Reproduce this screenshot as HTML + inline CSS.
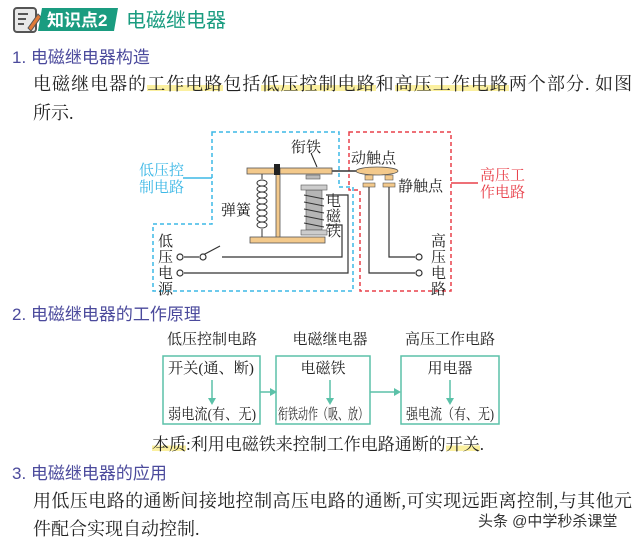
<!DOCTYPE html>
<html><head><meta charset="utf-8"><style>
body{margin:0;background:#fff;width:640px;height:544px;overflow:hidden;font-family:"Liberation Sans","Noto Sans CJK SC",sans-serif;}
.t{position:absolute;white-space:nowrap;}
.j{position:absolute;text-align:justify;text-align-last:justify;white-space:nowrap;font-size:18px;color:#222;font-family:"Liberation Serif","Noto Serif CJK SC",serif;}
.h{position:absolute;color:#4b4a9c;font-size:17px;}
.hl{background:linear-gradient(transparent 55%,#fbf0a0 55%,#fbf0a0 85%,transparent 85%);}
</style></head><body>
<svg class="t" style="left:0;top:0" width="640" height="544">
<rect x="14" y="8" width="22" height="24" rx="3" fill="#e8e8e8" stroke="#555" stroke-width="2"/>
<line x1="18" y1="14" x2="28" y2="14" stroke="#555" stroke-width="2"/>
<line x1="18" y1="19" x2="26" y2="19" stroke="#555" stroke-width="2"/>
<line x1="18" y1="24" x2="24" y2="24" stroke="#555" stroke-width="2"/>
<path d="M28 28 L38 14 L41 17 L31 31 Z" fill="#e07b39" stroke="#555" stroke-width="1"/>
<path d="M42 8 H118 L114 31 H38 Z" fill="#1a9c80"/>
<text x="47" y="26" font-size="17" font-weight="bold" fill="#fff" font-family="Liberation Sans,Noto Sans CJK SC,sans-serif">知识点2</text>
<text x="126" y="27" font-size="20" fill="#1a9c80" font-family="Liberation Sans,Noto Sans CJK SC,sans-serif">电磁继电器</text>

<path d="M212 132 H339 V187 H353 V291 H153 V224 H212 Z" fill="none" stroke="#3db8e6" stroke-width="1.5" stroke-dasharray="4,3"/>
<path d="M349 132 H451 V291 H360 V190 H349 Z" fill="none" stroke="#e8404a" stroke-width="1.5" stroke-dasharray="4,3"/>
<line x1="183" y1="178" x2="212" y2="178" stroke="#3db8e6" stroke-width="1.5"/>
<line x1="451" y1="183" x2="478" y2="183" stroke="#e8404a" stroke-width="1.5"/>
<g font-size="15" font-family="Liberation Serif,Noto Serif CJK SC,serif">
<text x="139" y="175" fill="#3db8e6">低压控</text>
<text x="139" y="192" fill="#3db8e6">制电路</text>
<text x="480" y="180" fill="#e8404a">高压工</text>
<text x="480" y="197" fill="#e8404a">作电路</text>
<g fill="#222">
<text x="291" y="152">衔铁</text>
<text x="351" y="163">动触点</text>
<text x="398" y="191">静触点</text>
<text x="221" y="215">弹簧</text>
<text x="326" y="206">电</text><text x="326" y="221">磁</text><text x="326" y="236">铁</text>
<text x="158" y="246">低</text><text x="158" y="262">压</text><text x="158" y="278">电</text><text x="158" y="294">源</text>
<text x="431" y="246">高</text><text x="431" y="262">压</text><text x="431" y="278">电</text><text x="431" y="294">路</text>
</g></g>
<line x1="311" y1="153" x2="317" y2="167" stroke="#222"/>
<line x1="330" y1="171" x2="360" y2="171" stroke="#333" stroke-width="1.5"/>
<rect x="247" y="168" width="85" height="6" fill="#f3c98b" stroke="#555" stroke-width="0.8"/>
<ellipse cx="377" cy="171" rx="21" ry="4" fill="#f3c98b" stroke="#555" stroke-width="0.8"/>
<rect x="276" y="168" width="4" height="72" fill="#f3c98b" stroke="#555" stroke-width="0.8"/>
<rect x="274" y="164" width="6" height="11" fill="#222"/>
<rect x="250" y="237" width="75" height="6" fill="#f3c98b" stroke="#555" stroke-width="0.8"/>
<line x1="262" y1="174" x2="262" y2="179" stroke="#333"/>
<line x1="262" y1="229" x2="262" y2="237" stroke="#333"/>
<g fill="none" stroke="#333"><ellipse cx="262" cy="183" rx="5" ry="3"/><ellipse cx="262" cy="189" rx="5" ry="3"/><ellipse cx="262" cy="195" rx="5" ry="3"/><ellipse cx="262" cy="201" rx="5" ry="3"/><ellipse cx="262" cy="207" rx="5" ry="3"/><ellipse cx="262" cy="213" rx="5" ry="3"/><ellipse cx="262" cy="219" rx="5" ry="3"/><ellipse cx="262" cy="225" rx="5" ry="3"/></g>
<rect x="306" y="175" width="14" height="4" fill="#bbb" stroke="#555" stroke-width="0.6"/>
<rect x="306" y="190" width="16" height="40" fill="#b5b5b5" stroke="#555" stroke-width="0.6"/>
<rect x="301" y="185" width="26" height="5" fill="#ccc" stroke="#555" stroke-width="0.6"/>
<rect x="301" y="230" width="26" height="5" fill="#ccc" stroke="#555" stroke-width="0.6"/>
<path d="M304 195 L324 199 M304 202 L324 206 M304 209 L324 213 M304 216 L324 220 M304 223 L324 227" stroke="#333" stroke-width="1"/>
<rect x="365" y="175" width="8" height="5" fill="#f3c98b" stroke="#555" stroke-width="0.6"/>
<rect x="385" y="175" width="8" height="5" fill="#f3c98b" stroke="#555" stroke-width="0.6"/>
<rect x="363" y="183" width="12" height="4" fill="#f3c98b" stroke="#555" stroke-width="0.6"/>
<rect x="383" y="183" width="12" height="4" fill="#f3c98b" stroke="#555" stroke-width="0.6"/>
<g fill="none" stroke="#333" stroke-width="1.2">
<path d="M184 257 H199"/><path d="M203 255 L220 246"/><path d="M222 257 H342 V225 H326"/>
<path d="M184 273 H348 V195 H326"/>
<path d="M369 187 V273 H415"/><path d="M389 187 V257 H415"/>
</g>
<g fill="#fff" stroke="#333" stroke-width="1.2">
<circle cx="180" cy="257" r="3"/><circle cx="203" cy="257" r="3"/><circle cx="180" cy="273" r="3"/>
<circle cx="419" cy="257" r="3"/><circle cx="419" cy="273" r="3"/>
</g>
<g font-size="15" font-family="Liberation Serif,Noto Serif CJK SC,serif" fill="#222" text-anchor="middle">
<text x="212" y="344">低压控制电路</text>
<text x="330" y="344">电磁继电器</text>
<text x="450" y="344">高压工作电路</text>
<text x="211" y="373" textLength="86" lengthAdjust="spacingAndGlyphs">开关(通、断)</text>
<text x="212" y="419" textLength="88" lengthAdjust="spacingAndGlyphs">弱电流(有、无)</text>
<text x="323" y="373">电磁铁</text>
<text x="323" y="419" textLength="90" lengthAdjust="spacingAndGlyphs">衔铁动作（吸、放）</text>
<text x="450" y="373">用电器</text>
<text x="450" y="419" textLength="88" lengthAdjust="spacingAndGlyphs">强电流（有、无)</text>
</g>
<g fill="none" stroke="#5bc1a8" stroke-width="1.5">
<rect x="163" y="356" width="97" height="68"/><rect x="276" y="356" width="94" height="68"/><rect x="401" y="356" width="98" height="68"/>
<path d="M212 380 V400 M330 380 V400 M450 380 V400 M260 392 H272 M370 392 H396"/>
</g>
<g fill="#5bc1a8"><path d="M208 398 L216 398 L212 405Z"/><path d="M326 398 L334 398 L330 405Z"/><path d="M446 398 L454 398 L450 405Z"/><path d="M270 388 L277 392 L270 396Z"/><path d="M394 388 L401 392 L394 396Z"/></g>
</svg>
<div class="h" style="left:12px;top:43px">1. 电磁继电器构造</div>
<div class="j" style="left:33px;top:70px;width:599px">电磁继电器的<span class="hl">工作电路</span>包括<span class="hl">低压控制电路</span>和<span class="hl">高压工作电路</span>两个部分. 如图</div>
<div class="j" style="left:33px;top:99px;text-align-last:auto">所示.</div>
<div class="h" style="left:12px;top:300px">2. 电磁继电器的工作原理</div>
<div class="j" style="left:152px;top:430px;font-size:17px;text-align-last:auto"><span class="hl">本质</span>:利用电磁铁来控制工作电路通断的<span class="hl">开关</span>.</div>
<div class="h" style="left:12px;top:459px">3. 电磁继电器的应用</div>
<div class="j" style="left:33px;top:487px;width:599px">用低压电路的通断间接地控制高压电路的通断,可实现远距离控制,与其他元</div>
<div class="j" style="left:33px;top:515px;text-align-last:auto">件配合实现自动控制.</div>
<div class="t" style="left:478px;top:510px;font-size:15px;color:#333">头条 @中学秒杀课堂</div>
</body></html>
